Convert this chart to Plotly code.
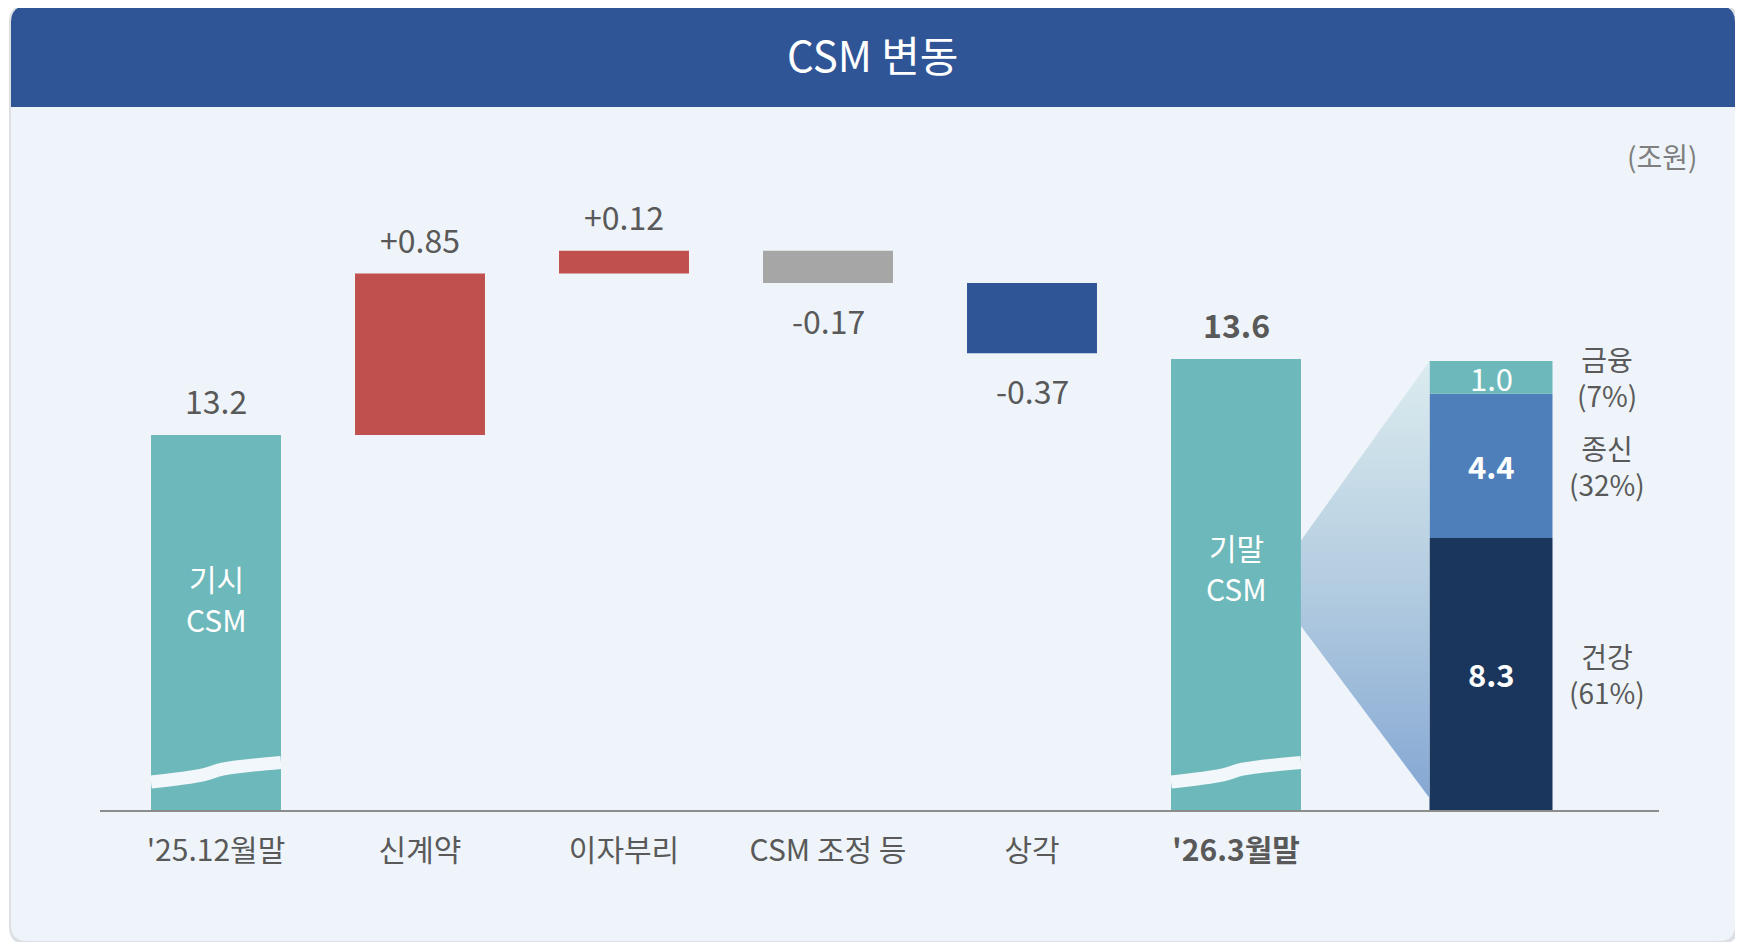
import plotly.graph_objects as go

# waterfall data (조원)
categories = ["'25.12월말", "신계약", "이자부리", "CSM 조정 등", "상각", "'26.3월말"]
changes = [13.2, 0.85, 0.12, -0.17, -0.37, 13.6]
measures = ["absolute", "relative", "relative", "relative", "relative", "absolute"]
value_labels = ["13.2", "+0.85", "+0.12", "-0.17", "-0.37", "13.6"]
inside_labels = [["기시", "CSM"], None, None, None, None, ["기말", "CSM"]]

# breakdown of ending CSM, bottom -> top
segment_names = ["건강", "종신", "금융"]
segment_values = [8.3, 4.4, 1.0]
segment_shares = ["61%", "32%", "7%"]

FONT = "Noto Sans CJK KR"
TEXT = "#595959"
TEAL = "#6DB8BA"
bar_colors = [TEAL, "#C0504D", "#C0504D", "#A6A6A6", "#2F5597", TEAL]
seg_colors = ["#1A365D", "#4F7FBA", TEAL]

# page layout in pixels; the page body adds an 8px offset to the figure
W_PX, H_PX = 1743, 942
OFF = 8
PL, PR, PT, PB = 100, 1659, 140, 810


def paper(x, y):
    return (x - PL) / (PR - PL), (PB - y) / (PB - PT)


def rounded_path(x0, y0, x1, y1, r, round_bottom=True):
    def P(x, y):
        px, py = paper(x, y)
        return f"{px:.5f},{py:.5f}"
    s = f"M {P(x0 + r, y0)} L {P(x1 - r, y0)} Q {P(x1, y0)} {P(x1, y0 + r)} "
    if round_bottom:
        s += f"L {P(x1, y1 - r)} Q {P(x1, y1)} {P(x1 - r, y1)} L {P(x0 + r, y1)} Q {P(x0, y1)} {P(x0, y1 - r)} "
    else:
        s += f"L {P(x1, y1)} L {P(x0, y1)} "
    s += f"L {P(x0, y0 + r)} Q {P(x0, y0)} {P(x0 + r, y0)} Z"
    return s


# waterfall bases
bases, tops, bottoms = [], [], []
running = 0.0
for m, v in zip(measures, changes):
    if m == "absolute":
        base = 0.0
        running = v
    else:
        base = running
        running += v
    bases.append(base)
    tops.append(max(base, base + v))
    bottoms.append(min(base, base + v))

x_pos = list(range(len(categories)))
BAR_W = 0.637
STACK_X = 6.25
STACK_W = 0.603
Y_MIN, Y_MAX = 11.226, 14.753
total = sum(segment_values)
Y2_MAX = total * (PB - PT) / (PB - 361)

fig = go.Figure()

# gradient connector between ending bar and breakdown bar
cx0 = x_pos[-1] + BAR_W / 2
cx1 = STACK_X - STACK_W / 2
fig.add_trace(
    go.Scatter(
        x=[cx0, cx1, cx1, cx0, cx0],
        y=[total * 0.60, total, total * 0.027, total * 0.41, total * 0.60],
        yaxis="y2",
        mode="lines",
        line=dict(width=0),
        fill="toself",
        fillgradient=dict(
            type="vertical",
            start=0,
            stop=total,
            colorscale=[[0, "#82A5D2"], [0.5, "#B3CCE0"], [1, "#DCECEF"]],
        ),
        hoverinfo="skip",
        showlegend=False,
    )
)

# waterfall bars
fig.add_trace(
    go.Bar(
        x=x_pos,
        y=changes,
        base=bases,
        width=BAR_W,
        marker=dict(color=bar_colors, line=dict(width=0)),
        hoverinfo="skip",
        showlegend=False,
    )
)

# breakdown stacked bar
seg_base = 0.0
seg_mids = []
for name, v, c in zip(segment_names, segment_values, seg_colors):
    fig.add_trace(
        go.Bar(
            x=[STACK_X],
            y=[v],
            base=[seg_base],
            width=STACK_W,
            yaxis="y2",
            marker=dict(color=c, line=dict(width=0)),
            name=name,
            hoverinfo="skip",
            showlegend=False,
        )
    )
    seg_mids.append(seg_base + v / 2)
    seg_base += v

# axis break marks on the absolute bars
for i, m in enumerate(measures):
    if m == "absolute":
        fig.add_trace(
            go.Scatter(
                x=[i - BAR_W / 2, i - BAR_W * 0.1, i + BAR_W * 0.05, i + BAR_W / 2],
                y=[Y_MIN + 0.147, Y_MIN + 0.185, Y_MIN + 0.215, Y_MIN + 0.25],
                mode="lines",
                line=dict(color="#F2F7FB", width=13, shape="spline"),
                hoverinfo="skip",
                showlegend=False,
            )
        )

annotations = []

# value labels above/below bars
for i, (lab, v) in enumerate(zip(value_labels, changes)):
    above = v > 0
    txt = f"<b>{lab}</b>" if i == len(changes) - 1 else lab
    annotations.append(
        dict(
            x=i,
            y=tops[i] if above else bottoms[i],
            text=txt,
            showarrow=False,
            yanchor="middle",
            yshift=35 if above else -37,
            font=dict(family=FONT, size=32, color=TEXT),
        )
    )

# inside labels (page y of each line)
inside_y = [[578, 619], None, None, None, None, [547, 588]]
for i, lines in enumerate(inside_labels):
    if lines:
        for line, py in zip(lines, inside_y[i]):
            annotations.append(
                dict(
                    x=i,
                    y=paper(0, py)[1],
                    yref="paper",
                    yanchor="middle",
                    text=line,
                    showarrow=False,
                    borderpad=0,
                    font=dict(family=FONT, size=30, color="white"),
                )
            )

# breakdown labels
for i, (name, v, share, mid) in enumerate(zip(segment_names, segment_values, segment_shares, seg_mids)):
    txt = f"{v:.1f}" if i == len(segment_values) - 1 else f"<b>{v:.1f}</b>"
    annotations.append(
        dict(
            x=STACK_X,
            y=mid,
            yref="y2",
            yanchor="middle",
            text=txt,
            showarrow=False,
            font=dict(family=FONT, size=31, color="white"),
        )
    )
    annotations.append(
        dict(
            x=6.82,
            y=mid,
            yref="y2",
            yanchor="middle",
            text=f"{name}<br>({share})",
            showarrow=False,
            font=dict(family=FONT, size=28, color=TEXT),
        )
    )

# title and unit
tx, ty = paper(873, 54)
annotations.append(
    dict(x=tx, y=ty, xref="paper", yref="paper", xanchor="center", yanchor="middle",
         text="CSM 변동", showarrow=False, font=dict(family=FONT, size=42, color="white"))
)
ux, uy = paper(1699, 156)
annotations.append(
    dict(x=ux, y=uy, xref="paper", yref="paper", xanchor="right", yanchor="middle",
         text="(조원)", showarrow=False, font=dict(family=FONT, size=28, color="#7F7F7F"))
)

shapes = [
    # card shadow
    dict(type="path", path=rounded_path(9, 5, 1738, 944, 17), xref="paper", yref="paper",
         fillcolor="#DCDFE3", line=dict(width=0), layer="below"),
    # card body
    dict(type="path", path=rounded_path(11, 6, 1735, 941, 16), xref="paper", yref="paper",
         fillcolor="#EEF4F9", line=dict(width=0), layer="below"),
    # header
    dict(type="path", path=rounded_path(11, 6, 1735, 107, 16, round_bottom=False), xref="paper",
         yref="paper", fillcolor="#2F5597", line=dict(width=0), layer="below"),
]

fig.update_layout(
    width=W_PX,
    height=H_PX,
    margin=dict(l=PL - OFF, r=W_PX - (PR - OFF), t=PT - OFF, b=H_PX - (PB - OFF), autoexpand=False),
    paper_bgcolor="white",
    plot_bgcolor="rgba(0,0,0,0)",
    barmode="overlay",
    shapes=shapes,
    annotations=annotations,
    font=dict(family=FONT, color=TEXT),
    xaxis=dict(
        range=[(PL - 216) / 204, (PR - 216) / 204],
        tickvals=x_pos,
        ticktext=categories[:-1] + [f"<b>{categories[-1]}</b>"],
        tickfont=dict(family=FONT, size=30, color=TEXT),
        ticks="",
        ticklabelstandoff=13,
        showgrid=False,
        zeroline=False,
        showline=True,
        linecolor="#8C8C8C",
        linewidth=2,
        fixedrange=True,
    ),
    yaxis=dict(range=[Y_MIN, Y_MAX], visible=False, showgrid=False, fixedrange=True),
    yaxis2=dict(range=[0, Y2_MAX], overlaying="y", visible=False, showgrid=False, fixedrange=True),
)

fig.write_html("out.html")
